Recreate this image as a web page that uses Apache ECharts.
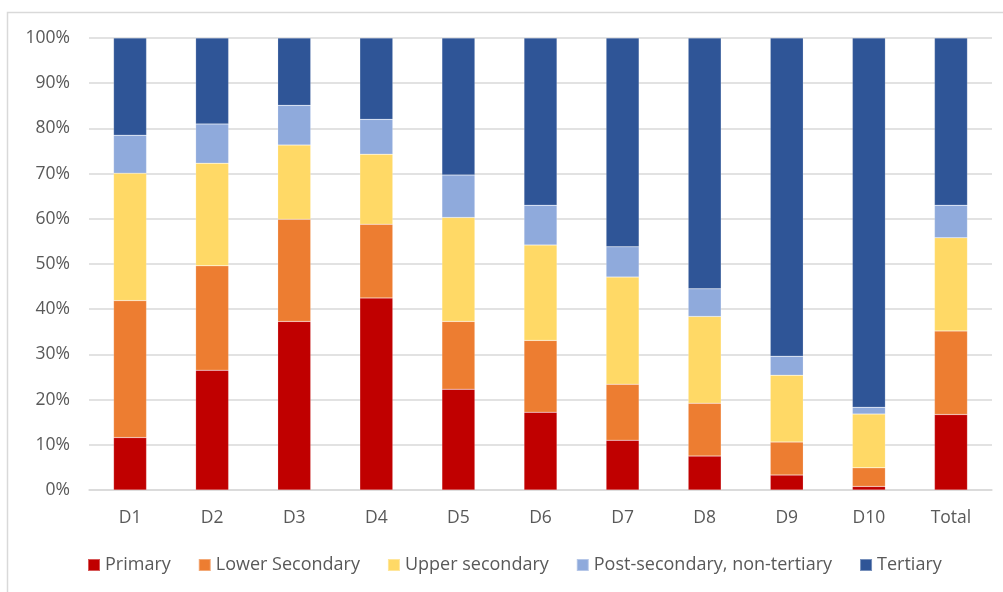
<!DOCTYPE html>
<html>
<head>
<meta charset="utf-8">
<script src="https://cdn.jsdelivr.net/npm/echarts@6/dist/echarts.min.js"></script>
<style>
  html, body { margin: 0; padding: 0; background: #fff; }
  #chart { width: 1003px; height: 592px; }
</style>
</head>
<body>
<div id="chart"></div>
<script>
// categories (deciles + total)
const categories = ['D1', 'D2', 'D3', 'D4', 'D5', 'D6', 'D7', 'D8', 'D9', 'D10', 'Total'];

// shares in %
const primary      = [11.6, 26.5, 37.3, 42.5, 22.3, 17.2, 11.0, 7.5, 3.3, 0.8, 16.7];
const lowerSec     = [30.3, 23.1, 22.6, 16.3, 15.0, 15.9, 12.4, 11.7, 7.3, 4.1, 18.5];
const upperSec     = [28.2, 22.7, 16.4, 15.5, 23.0, 21.1, 23.7, 19.2, 14.8, 11.9, 20.6];
const postSec      = [8.4, 8.7, 8.8, 7.7, 9.4, 8.8, 6.7, 6.1, 4.2, 1.5, 7.2];
const tertiary     = [21.5, 19.0, 14.9, 18.0, 30.3, 37.0, 46.2, 55.5, 70.4, 81.7, 37.0];

const seriesNames = ['Primary', 'Lower Secondary', 'Upper secondary', 'Post-secondary, non-tertiary', 'Tertiary'];
const seriesData = [primary, lowerSec, upperSec, postSec, tertiary];
const colors = ['#C00000', '#ED7D31', '#FFD966', '#8FAADC', '#2F5597'];

const font = '"Open Sans", "Liberation Sans", sans-serif';
const textColor = '#595959';

const chart = echarts.init(document.getElementById('chart'));

const option = {
  animation: false,
  color: colors,
  textStyle: { fontFamily: font },
  graphic: [
    {
      // outer frame
      type: 'rect',
      shape: { x: 7.5, y: 12.5, width: 1010, height: 600 },
      style: { fill: 'none', stroke: '#d9d9d9', lineWidth: 1.5 },
      silent: true
    }
  ],
  grid: { left: 89, right: 11, top: 38, bottom: 102 },
  legend: {
    data: seriesNames,
    left: 82,
    top: 551,
    itemWidth: 12,
    itemHeight: 12,
    itemGap: 27,
    icon: 'rect',
    textStyle: { color: textColor, fontSize: 18, fontFamily: font }
  },
  xAxis: {
    type: 'category',
    data: categories,
    axisLine: { lineStyle: { color: '#d9d9d9', width: 1.5 } },
    axisTick: { show: false },
    axisLabel: { color: textColor, fontSize: 17.5, margin: 19, fontFamily: font }
  },
  yAxis: {
    type: 'value',
    min: 0,
    max: 100,
    interval: 10,
    axisLine: { show: false },
    axisTick: { show: false },
    splitLine: { lineStyle: { color: '#d9d9d9', width: 1.5 } },
    axisLabel: {
      color: textColor,
      fontSize: 17.5,
      margin: 19,
      fontFamily: font,
      formatter: v => v + '%'
    }
  },
  series: seriesNames.map((name, i) => ({
    name: name,
    type: 'bar',
    stack: 'total',
    barWidth: 33,
    data: seriesData[i],
    itemStyle: { borderColor: 'rgba(255,255,255,0.35)', borderWidth: 0.5 }
  }))
};

chart.setOption(option);
</script>
</body>
</html>
